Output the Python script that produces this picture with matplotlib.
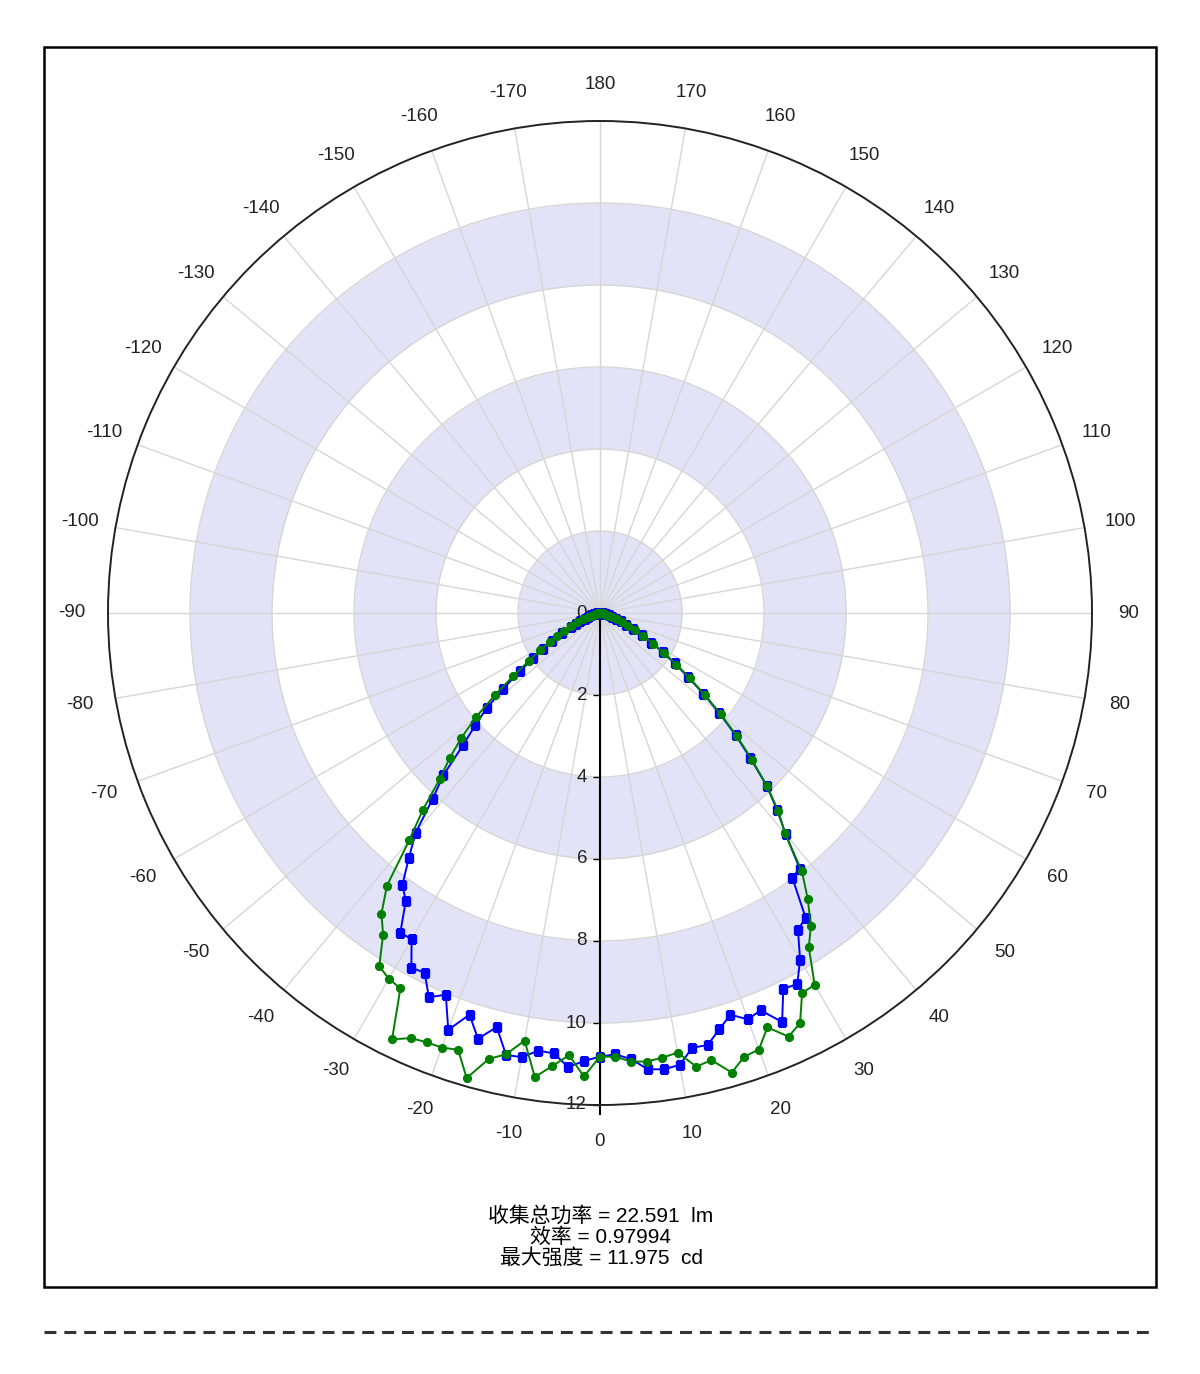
import numpy as np
import matplotlib
matplotlib.use("Agg")
import matplotlib.pyplot as plt
from matplotlib.patches import Rectangle
from matplotlib.lines import Line2D
from matplotlib.transforms import offset_copy

# ---------------- data ----------------
angles_deg = list(range(-90, 92, 2))

blue_r = [
    0.00, 0.01, 0.02, 0.03, 0.05, 0.07, 0.10, 0.15, 0.22, 0.30,   # -90 .. -72
    0.40, 0.52, 0.65, 0.80, 1.05, 1.35, 1.65, 1.98, 2.40, 3.00,   # -70 .. -52
    3.60, 4.10, 4.65, 5.50, 6.10, 6.99, 7.57, 8.20, 8.47, 9.19,   # -50 .. -32
    9.19, 9.80, 9.76, 10.26, 10.04, 10.82, 10.30, 10.80, 10.41, 11.02,  # -30 .. -12
    11.00, 10.78, 10.80, 11.10, 10.93,                            # -10 .. -2
    10.82,                                                        # 0
    10.77, 10.91, 11.19, 11.24, 11.19, 10.84, 10.86, 10.56, 10.30, 10.55,  # 2 .. 20
    10.45, 10.92, 10.20, 10.25, 9.76, 9.11, 8.97, 7.98, 7.91, 7.05,        # 22 .. 40
    6.45, 5.85, 5.10, 4.45, 3.80, 3.20, 2.65, 2.20, 1.80, 1.45,   # 42 .. 60
    1.15, 0.90, 0.70, 0.55, 0.42, 0.31, 0.22, 0.15, 0.10, 0.07,   # 62 .. 80
    0.05, 0.03, 0.02, 0.01, 0.00,                                 # 82 .. 90
]

green_r = [
    0.00, 0.01, 0.02, 0.03, 0.05, 0.07, 0.11, 0.16, 0.23, 0.32,   # -90 .. -72
    0.44, 0.60, 0.78, 0.98, 1.20, 1.42, 1.72, 2.10, 2.62, 3.25,   # -70 .. -52
    3.95, 4.55, 5.10, 5.62, 6.45, 7.24, 8.44, 9.07, 9.46, 10.16,  # -50 .. -32
    10.30, 10.37, 11.57, 11.35, 11.29, 11.28, 11.20, 11.80, 11.21, 11.00,  # -30 .. -12
    10.59, 11.43, 11.11, 10.81, 11.31,                            # -10 .. -2
    10.82,                                                        # 0
    10.83, 10.97, 11.00, 10.95, 10.89, 11.31, 11.24, 11.66, 11.38, 11.33,  # 2 .. 20
    10.90, 11.31, 11.13, 10.50, 10.47, 9.61, 9.20, 8.62, 8.00, 7.02,       # 22 .. 40
    6.50, 5.85, 5.15, 4.50, 3.85, 3.25, 2.70, 2.25, 1.85, 1.50,   # 42 .. 60
    1.20, 0.95, 0.75, 0.58, 0.43, 0.32, 0.23, 0.16, 0.11, 0.07,   # 62 .. 80
    0.05, 0.03, 0.02, 0.01, 0.00,                                 # 82 .. 90
]

theta_ticks = list(range(0, 360, 10))
theta_labels = [str(a if a <= 180 else a - 360) for a in theta_ticks]
r_ticks = [0, 2, 4, 6, 8, 10, 12]
r_max = 12
bands = [(0, 2), (4, 6), (8, 10)]
info_lines = ["收集总功率 = 22.591  lm", "效率 = 0.97994", "最大强度 = 11.975  cd"]

# ---------------- figure ----------------
W, H = 1200, 1374
fig = plt.figure(figsize=(W / 100, H / 100), dpi=100)
fig.patch.set_facecolor("white")


def fx(px):
    return px / W


def fy(py):
    return 1 - py / H


num_font = ["Liberation Sans", "DejaVu Sans"]

ax = fig.add_axes([fx(108), fy(1105), 984 / W, 984 / H], projection="polar")
ax.set_theta_zero_location("S")
ax.set_theta_direction(1)
ax.set_ylim(0, r_max)

ax.set_xticks(np.deg2rad(theta_ticks))
ax.set_xticklabels([])
ax.set_yticks([2, 4, 6, 8, 10])
ax.set_yticklabels([])
ax.grid(True, color="#d6d6d6", linewidth=1.0)
ax.tick_params(axis="x", direction="out", length=5.5, width=1.0, color="#222222")
ax.tick_params(axis="y", length=0)
ax.spines["polar"].set_color("#222222")
ax.spines["polar"].set_linewidth(1.4)

# shaded annular bands
tt = np.linspace(0, 2 * np.pi, 721)
for r0, r1 in bands:
    ax.fill_between(tt, r0, r1, color="#e3e3f7", linewidth=0, zorder=0.5)

# radial axis along 0 deg
ax.plot([0, 0], [0, r_max + 0.22], color="black", linewidth=1.5, zorder=2, clip_on=False)
ax.plot([0] * len(r_ticks), r_ticks, linestyle="none",
        marker=[(-1, 0), (0, 0)], markersize=10, markeredgewidth=1.0,
        color="black", zorder=2, clip_on=False)
lbl_tr = offset_copy(ax.transData, fig=fig, x=-13, y=0, units="dots")
for r in r_ticks:
    ax.text(0, r, str(r), transform=lbl_tr, ha="right", va="center",
            fontsize=13.5, family=num_font, color="#222222")

# angle labels
for a, lab in zip(theta_ticks, theta_labels):
    ax.text(np.deg2rad(a), 12.88, lab, ha="center", va="center",
            fontsize=13.5, family=num_font, color="#222222", clip_on=False)

# curves
th = np.deg2rad(angles_deg)
ax.plot(th, blue_r, color="#0000ff", linewidth=1.4, marker="s",
        markersize=5.8, zorder=3)
ax.plot(th, green_r, color="#008000", linewidth=1.4, marker="o",
        markersize=5.6, zorder=4)

# info text
for i, line in enumerate(info_lines):
    fig.text(fx(601), fy(1216 + 21 * i), line, ha="center", va="center",
             fontsize=15, family=["Liberation Sans", "Noto Sans CJK SC"],
             color="black")

# frame
fig.add_artist(Rectangle((fx(44), fy(1287)), fx(1156) - fx(44), fy(47) - fy(1287),
                         transform=fig.transFigure, fill=False,
                         edgecolor="black", linewidth=1.8))
# dashed separator
fig.add_artist(Line2D([fx(44), fx(1156)], [fy(1332), fy(1332)],
                      transform=fig.transFigure, color="#333333",
                      linewidth=2.2, dashes=(3.9, 2.6)))

fig.savefig("out.png", dpi=100, facecolor="white")
